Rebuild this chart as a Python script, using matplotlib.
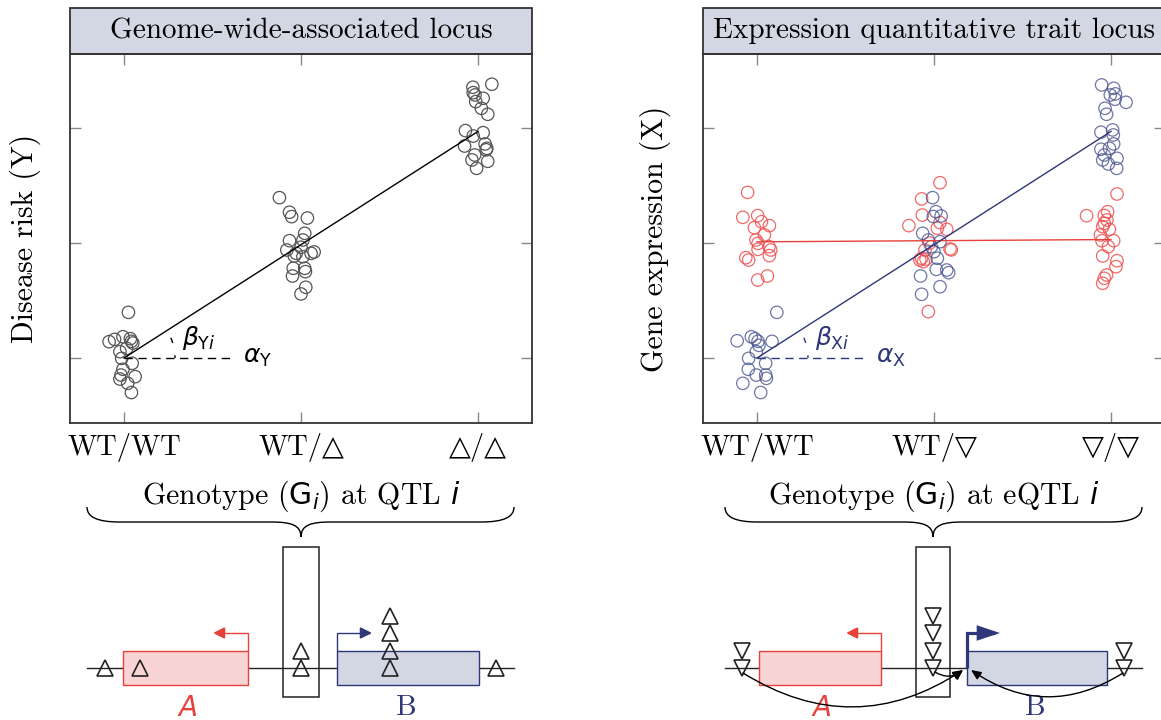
import numpy as np
import matplotlib.pyplot as plt
from matplotlib.patches import Rectangle, FancyArrowPatch, PathPatch
from matplotlib.path import Path

plt.rcParams['font.family'] = ['cmr10', 'DejaVu Sans']
plt.rcParams['mathtext.fontset'] = 'dejavusans'
plt.rcParams['axes.unicode_minus'] = False

# genotype categories
gwas_genotypes = ['WT/WT', 'WT/\u25b3', '\u25b3/\u25b3']
eqtl_genotypes = ['WT/WT', 'WT/\u25bd', '\u25bd/\u25bd']

# disease risk (Y) per genotype: horizontal jitter and value
risk_jitter = [
    [0.025, -0.084, -0.053, -0.006, 0.036, 0.042, -0.023, 0.015, -0.013, 0.046,
     -0.006, -0.017, -0.023, 0.063, 0.021, 0.042, 0.05],
    [-0.122, -0.065, -0.053, 0.036, 0.021, 0.011, -0.065, 0.0, -0.08, -0.027,
     0.074, 0.057, 0.011, -0.038, 0.021, -0.044, 0.025, -0.048, 0.027, 0.0],
    [0.078, -0.029, -0.027, -0.017, 0.029, -0.013, 0.019, 0.055, -0.071, 0.029,
     -0.027, -0.076, 0.04, 0.05, 0.046, -0.019, -0.034, 0.055, -0.008],
]
risk_value = [
    [0.397, 0.142, 0.162, 0.185, 0.168, 0.145, 0.055, 0.084, -0.003, -0.046,
     -0.098, -0.148, -0.183, -0.162, -0.22, -0.30, 0.13],
    [1.394, 1.267, 1.229, 1.217, 1.084, 1.026, 1.02, 0.963, 0.939, 0.91,
     0.922, 0.91, 0.881, 0.887, 0.78, 0.78, 0.751, 0.713, 0.615, 0.557],
    [2.38, 2.354, 2.307, 2.287, 2.258, 2.229, 2.171, 2.119, 1.977, 1.959,
     1.93, 1.843, 1.861, 1.823, 1.81, 1.765, 1.722, 1.71, 1.649],
]

# gene expression (X) of gene B (blue) and gene A (red)
expr_b_jitter = [
    [0.112, -0.112, -0.032, -0.011, 0.006, 0.085, -0.004, -0.047, 0.049, -0.049,
     -0.004, 0.053, 0.049, -0.08, 0.021, 0.011],
    [-0.008, 0.011, 0.04, -0.004, -0.064, -0.032, 0.034, -0.015, 0.0, 0.019,
     0.013, 0.072, 0.083, -0.076, 0.034, -0.07],
    [-0.053, 0.015, -0.004, 0.025, 0.023, 0.085, -0.034, -0.025, -0.057, 0.009,
     0.013, 0.015, -0.009, -0.057, -0.038, 0.034, -0.047, -0.015, 0.032],
]
expr_b_value = [
    [0.397, 0.15, 0.185, 0.168, 0.145, 0.145, 0.055, -0.003, -0.046, -0.098,
     -0.148, -0.177, -0.148, -0.22, -0.30, 0.11],
    [1.394, 1.272, 1.235, 1.23, 1.084, 1.026, 1.011, 0.968, 0.924, 0.867,
     0.771, 0.765, 0.742, 0.713, 0.62, 0.554],
    [2.374, 2.345, 2.287, 2.296, 2.25, 2.223, 2.171, 2.119, 1.963, 1.983,
     1.939, 1.861, 1.823, 1.815, 1.765, 1.736, 1.722, 1.687, 1.649],
]
expr_a_jitter = [
    [-0.053, -0.08, 0.004, 0.025, 0.07, -0.015, 0.042, -0.006, 0.006, 0.068,
     0.078, 0.006, 0.07, -0.063, -0.047, 0.059, 0.004],
    [0.034, -0.07, -0.066, -0.142, 0.019, 0.072, 0.034, 0.091, -0.051, -0.07,
     -0.06, -0.08, -0.032, -0.025, 0.098, -0.045],
    [0.034, -0.138, -0.019, -0.038, -0.038, -0.023, -0.047, -0.009, -0.06, 0.015,
     -0.051, -0.015, -0.047, 0.034, 0.028, -0.025, -0.038, -0.047],
]
expr_a_value = [
    [1.44, 1.223, 1.238, 1.185, 1.151, 1.133, 1.07, 1.026, 0.997, 0.968,
     0.939, 0.945, 0.89, 0.872, 0.852, 0.713, 0.678],
    [1.524, 1.383, 1.243, 1.151, 1.128, 1.119, 1.177, 0.948, 0.939, 0.867,
     0.838, 0.852, 0.403, 1.0, 0.94, 0.86],
    [1.426, 1.237, 1.272, 1.24, 1.171, 1.2, 1.142, 1.119, 1.07, 1.02,
     1.02, 0.968, 0.887, 0.846, 0.794, 0.722, 0.693, 0.65],
]

# fitted intercepts and slopes
alpha_y, beta_y = 0.0, 0.985
alpha_x, beta_x = 0.0, 0.985
alpha_a, beta_a = 1.01, 0.01

# locus schematic layout (figure pixels)
track_y = 668
gwas_track = (87, 514)
gwas_gene_a = (123, 248)
gwas_gene_b = (337, 479)
gwas_window = (283, 319)
gwas_variant_x = [105, 140, 301, 390, 496]
gwas_variant_n = [1, 1, 2, 4, 1]
eqtl_track = (725, 1142)
eqtl_gene_a = (759, 881)
eqtl_gene_b = (967, 1107)
eqtl_window = (916, 950)
eqtl_variant_x = [742, 933, 1124]
eqtl_variant_n = [2, 4, 2]

RED = '#e8403a'
RED_FILL = '#f9d4d4'
NAVY = '#2e3778'
NAVY_FILL = '#d3d6e3'
W, H = 1161, 720

fig = plt.figure(figsize=(W / 100, H / 100), dpi=100)


def px_rect(x0, y0, x1, y1):
    return [x0 / W, 1 - y1 / H, (x1 - x0) / W, (y1 - y0) / H]


# overlay axes in pixel units for the schematic
ax_d = fig.add_axes([0, 0, 1, 1])
ax_d.set_xlim(0, W)
ax_d.set_ylim(H, 0)
ax_d.axis('off')

ax_l = fig.add_axes(px_rect(70, 54, 532, 423))
ax_r = fig.add_axes(px_rect(703, 54, 1165, 423))


def style_panel(ax, title, ylabel, ylabel_x, ticklabels):
    ax.set_xlim(-0.305, 2.305)
    ax.set_ylim(-0.565, 2.643)
    ax.set_xticks([0, 1, 2])
    ax.set_xticklabels(ticklabels, fontsize=20.5)
    ax.set_yticks([0, 1, 2])
    ax.set_yticklabels([])
    ax.tick_params(direction='in', length=8, width=1, color='#888888',
                   top=True, right=True, pad=7)
    for s in ax.spines.values():
        s.set_color('#333333')
        s.set_linewidth(1.3)
    hbox = 46 / 369
    ax.add_patch(Rectangle((0, 1), 1, hbox, transform=ax.transAxes,
                           facecolor=NAVY_FILL, edgecolor='#333333', lw=1.3,
                           clip_on=False))
    ax.text(0.5, 1 + hbox / 2, title, transform=ax.transAxes,
            ha='center', va='center', fontsize=21)
    ax.text(ylabel_x, 0.5, ylabel, transform=ax.transAxes, rotation=90,
            ha='center', va='center', fontsize=21.5)


def scatter_groups(ax, jitter, values, color, alpha):
    for k in range(3):
        ax.scatter(k + np.array(jitter[k]), values[k], s=80, facecolors='none',
                   edgecolors=color, linewidths=0.9, alpha=alpha, zorder=2)


def slope_marks(ax, alpha, beta, color, beta_label, alpha_label):
    xs = np.array([0, 2])
    ax.plot(xs, alpha + beta * xs, color=color, lw=1, zorder=3)
    ax.plot([0, 0.6], [alpha, alpha], color=color, lw=1, ls=(0, (6, 4)), zorder=3)
    # angle arc, built in display space so it stays circular
    p0 = ax.transData.transform((0, alpha))
    p1 = ax.transData.transform((1, alpha + beta))
    ang = np.arctan2(p1[1] - p0[1], p1[0] - p0[0])
    t = np.linspace(0, ang, 30)
    pts = np.column_stack([p0[0] + 51 * np.cos(t), p0[1] + 51 * np.sin(t)])
    arc = ax.transData.inverted().transform(pts)
    ax.plot(arc[:, 0], arc[:, 1], color=color, lw=1, ls=(2, (4, 9)), zorder=3)
    ax.text(0.33, alpha + 0.17, beta_label, color=color, fontsize=18,
            ha='left', va='center')
    ax.text(0.67, alpha, alpha_label, color=color, fontsize=18,
            ha='left', va='center')


style_panel(ax_l, 'Genome-wide-associated locus', 'Disease risk (Y)', -0.0974,
            gwas_genotypes)
style_panel(ax_r, 'Expression quantitative trait locus', 'Gene expression (X)',
            -0.104, eqtl_genotypes)

scatter_groups(ax_l, risk_jitter, risk_value, '#555555', 1.0)
slope_marks(ax_l, alpha_y, beta_y, 'black',
            r'$\beta_{\mathrm{Y}i}$', r'$\alpha_{\mathrm{Y}}$')

scatter_groups(ax_r, expr_a_jitter, expr_a_value, '#ef4f4f', 0.85)
scatter_groups(ax_r, expr_b_jitter, expr_b_value, '#4a5590', 0.8)
ax_r.plot([0, 2], [alpha_a, alpha_a + 2 * beta_a], color=RED, lw=1, zorder=3)
slope_marks(ax_r, alpha_x, beta_x, NAVY,
            r'$\beta_{\mathrm{X}i}$', r'$\alpha_{\mathrm{X}}$')


def draw_brace(ax, x0, x1, xt, y0, depth):
    ym = y0 + depth / 2
    yt = y0 + depth
    verts = [(x0, y0), (x0, y0 + 10), (x0 + 10, ym), (x0 + 33, ym),
             (xt - 30, ym),
             (xt - 10, ym), (xt, ym + 3), (xt, yt),
             (xt, ym + 3), (xt + 10, ym), (xt + 30, ym),
             (x1 - 33, ym),
             (x1 - 10, ym), (x1, y0 + 10), (x1, y0)]
    codes = ([Path.MOVETO] + [Path.CURVE4] * 3 + [Path.LINETO] +
             [Path.CURVE4] * 6 + [Path.LINETO] + [Path.CURVE4] * 3)
    ax.add_patch(PathPatch(Path(verts, codes), facecolor='none',
                           edgecolor='black', lw=1))


def gene_box(ax, span, edge, fill):
    ax.add_patch(Rectangle((span[0], 651), span[1] - span[0], 34,
                           facecolor=fill, edgecolor=edge, lw=1, zorder=2))


def tss_arrow(ax, x, y_from, x_end, color, lw, style, ms):
    path = Path([(x, y_from), (x, 633), (x_end, 633)],
                [Path.MOVETO, Path.LINETO, Path.LINETO])
    ax.add_patch(FancyArrowPatch(path=path, arrowstyle=style, mutation_scale=ms,
                                 color=color, lw=lw, joinstyle='miter',
                                 capstyle='butt', zorder=3))


def variants(ax, xs, counts, marker):
    for x, n in zip(xs, counts):
        ys = track_y - 17.3 * np.arange(n)
        ax.plot([x] * n, ys, ls='none', marker=marker, markersize=11.5,
                markerfacecolor='none', markeredgecolor='#222222',
                markeredgewidth=1.2, zorder=4)


for track, gene_a, gene_b, window, vx, vn, marker, label, x_text, xt in [
        (gwas_track, gwas_gene_a, gwas_gene_b, gwas_window, gwas_variant_x,
         gwas_variant_n, '^', r'Genotype ($\mathrm{G}_i$) at QTL $i$', 301, 301),
        (eqtl_track, eqtl_gene_a, eqtl_gene_b, eqtl_window, eqtl_variant_x,
         eqtl_variant_n, 'v', r'Genotype ($\mathrm{G}_i$) at eQTL $i$', 934, 933)]:
    ax_d.text(x_text, 496, label, ha='center', va='center', fontsize=21.5)
    draw_brace(ax_d, track[0], track[1], xt, 507, 30)
    ax_d.plot(track, [track_y, track_y], color='#222222', lw=1, zorder=1)
    gene_box(ax_d, gene_a, RED, RED_FILL)
    gene_box(ax_d, gene_b, NAVY, NAVY_FILL)
    ax_d.add_patch(Rectangle((window[0], 547), window[1] - window[0], 150,
                             facecolor='none', edgecolor='#222222', lw=1.1,
                             zorder=3))
    tss_arrow(ax_d, gene_a[1], 651, gene_a[1] - 35, RED, 1,
              '-|>,head_length=0.4,head_width=0.2', 18)
    variants(ax_d, vx, vn, marker)
    ax_d.text((gene_a[0] + gene_a[1]) / 2 + 2, 708, 'A', color=RED, fontsize=20,
              family='DejaVu Sans', style='italic', ha='center', va='center')
    ax_d.text((gene_b[0] + gene_b[1]) / 2 - 2, 708, 'B', color=NAVY, fontsize=21,
              ha='center', va='center')

tss_arrow(ax_d, gwas_gene_b[0], 651, gwas_gene_b[0] + 35, NAVY, 1,
          '-|>,head_length=0.4,head_width=0.2', 18)
tss_arrow(ax_d, eqtl_gene_b[0], track_y, eqtl_gene_b[0] + 33, NAVY, 2.3,
          '-|>,head_length=0.6,head_width=0.2', 20)

# regulatory links from the variants to the promoter of gene B
for start, end, rad in [((743, 673), (963, 670), 0.32),
                        ((935, 672), (963, 670), 0.35),
                        ((1123, 673), (971, 670), -0.33)]:
    ax_d.add_patch(FancyArrowPatch(start, end, connectionstyle=f'arc3,rad={rad}',
                                   arrowstyle='-|>,head_length=0.5,head_width=0.22',
                                   mutation_scale=12, color='black', lw=1,
                                   shrinkA=0, shrinkB=0, zorder=5))

fig.savefig('out.png', dpi=100)
